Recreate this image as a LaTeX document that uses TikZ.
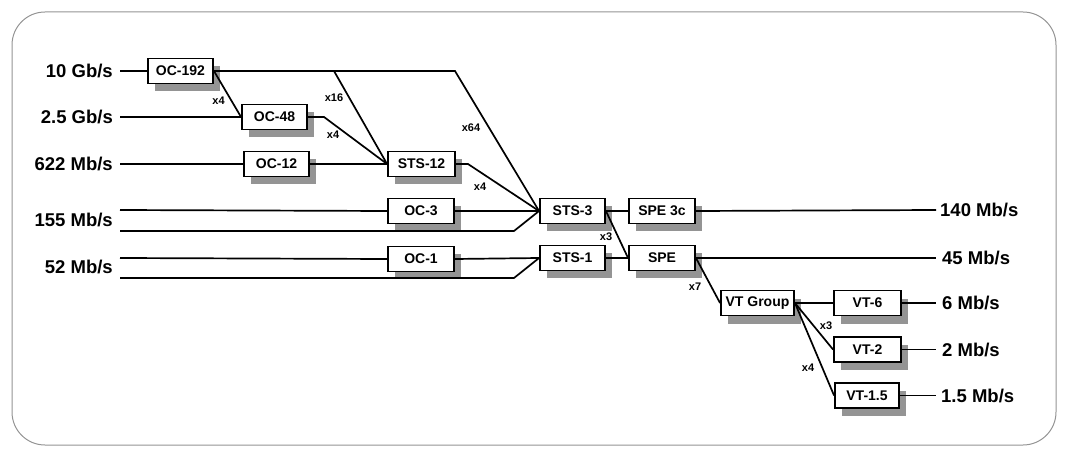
\documentclass[tikz,border=0pt]{standalone}
\usepackage{fontspec}
\setmainfont{Liberation Sans}
\usetikzlibrary{shadows}

\begin{document}
\begin{tikzpicture}[x=1pt,y=-1pt,
    box/.style={draw,fill=white,line width=1.9pt,inner sep=0pt,minimum width=65pt,minimum height=25pt,
        font=\fontsize{14}{15}\selectfont\bfseries,
        drop shadow={shadow xshift=7pt,shadow yshift=-8pt,fill=black!42,opacity=1}},
    rate/.style={inner xsep=7pt,inner ysep=0pt,font=\fontsize{18.5}{20}\selectfont\bfseries},
    mult/.style={inner sep=0pt,font=\fontsize{11}{12}\selectfont\bfseries},
    line/.style={line width=1.7pt}]
    \useasboundingbox (0,0) rectangle (1066,457);
    \draw[black!42,line width=1pt,rounded corners=33pt] (12,12) rectangle (1056,445);

    \node[box] (oc192) at (180.5,71) {OC-192};
    \node[box] (oc48) at (274.5,117) {OC-48};
    \node[box] (oc12) at (276.5,164) {OC-12};
    \node[box,minimum width=67pt] (sts12) at (421.5,164) {STS-12};
    \node[box,minimum width=66pt] (oc3) at (421,211) {OC-3};
    \node[box,minimum width=66pt] (oc1) at (421,259) {OC-1};
    \node[box] (sts3) at (572.5,211) {STS-3};
    \node[box] (sts1) at (572.5,258) {STS-1};
    \node[box,minimum width=66pt] (spe3c) at (662,211) {SPE 3c};
    \node[box,minimum width=66pt] (spe) at (662,258) {SPE};
    \node[box,minimum width=73pt] (vtgroup) at (757.5,303) {VT Group};
    \node[box,minimum width=67pt] (vt6) at (867.5,303) {VT-6};
    \node[box,minimum width=67pt] (vt2) at (867.5,349.5) {VT-2};
    \node[box,minimum width=64pt] (vt15) at (867,395.5) {VT-1.5};

    \node[rate,anchor=east] (l10) at (120,71) {10 Gb/s};
    \node[rate,anchor=east] (l25) at (120,117) {2.5 Gb/s};
    \node[rate,anchor=east] (l622) at (120,164) {622 Mb/s};
    \node[rate,anchor=east] (l155) at (120,220) {155 Mb/s};
    \node[rate,anchor=east] (l52) at (120,267) {52 Mb/s};
    \node[rate,anchor=west,inner xsep=4pt] (l140) at (936,210) {140 Mb/s};
    \node[rate,anchor=west,inner xsep=6pt] (l45) at (936,258) {45 Mb/s};
    \node[rate,anchor=west,inner xsep=6pt] (l6) at (936,303) {6 Mb/s};
    \node[rate,anchor=west,inner xsep=6pt] (l2) at (936,349.5) {2 Mb/s};
    \node[rate,anchor=west,inner xsep=5pt] (l15) at (936,395.5) {1.5 Mb/s};

    \coordinate (k64) at (455,71);
    \coordinate (k16) at (334,71);
    \coordinate (k48) at (324,117);
    \coordinate (k12) at (468,164);
    \coordinate (a155) at (120,210);
    \coordinate (b155) at (120,231);
    \coordinate (k155) at (514,231);
    \coordinate (a52) at (120,258);
    \coordinate (b52) at (120,278);
    \coordinate (k52) at (514,278);

    \draw[line] (l10.east) -- (oc192.west);
    \draw[line] (oc192.east) -- (k64) -- (sts3.west);
    \draw[line] (k16) -- (sts12.west);
    \draw[line] (oc192.east) -- (oc48.west);
    \draw[line] (l25.east) -- (oc48.west);
    \draw[line] (oc48.east) -- (k48) -- (sts12.west);
    \draw[line] (l622.east) -- (oc12.west);
    \draw[line] (oc12.east) -- (sts12.west);
    \draw[line] (sts12.east) -- (k12) -- (sts3.west);
    \draw[line] (a155) -- (oc3.west);
    \draw[line] (oc3.east) -- (sts3.west);
    \draw[line] (b155) -- (k155) -- (sts3.west);
    \draw[line] (a52) -- (oc1.west);
    \draw[line] (oc1.east) -- (sts1.west);
    \draw[line] (b52) -- (k52) -- (sts1.west);
    \draw[line] (sts3.east) -- (spe3c.west);
    \draw[line] (sts3.east) -- (spe.west);
    \draw[line] (sts1.east) -- (spe.west);
    \draw[line] (spe3c.east) -- (l140.west);
    \draw[line] (spe.east) -- (l45.west);
    \draw[line] (spe.east) -- (vtgroup.west);
    \draw[line] (vtgroup.east) -- (vt6.west);
    \draw[line] (vtgroup.east) -- (vt2.west);
    \draw[line] (vtgroup.east) -- (vt15.west);
    \draw[line] (vt6.east) -- (l6.west);
    \draw[line] (vt2.east) -- (l2.west);
    \draw[line] (vt15.east) -- (l15.west);

    \node[mult] (m4a) at (218.5,100.5) {x4};
    \node[mult] (m16) at (334,98) {x16};
    \node[mult] (m4b) at (333,135) {x4};
    \node[mult] (m64) at (471,127.5) {x64};
    \node[mult] (m4c) at (480,186.5) {x4};
    \node[mult] (m3a) at (606,237) {x3};
    \node[mult] (m7) at (695,286.5) {x7};
    \node[mult] (m3b) at (826,326) {x3};
    \node[mult] (m4d) at (808,368) {x4};
\end{tikzpicture}
\end{document}
